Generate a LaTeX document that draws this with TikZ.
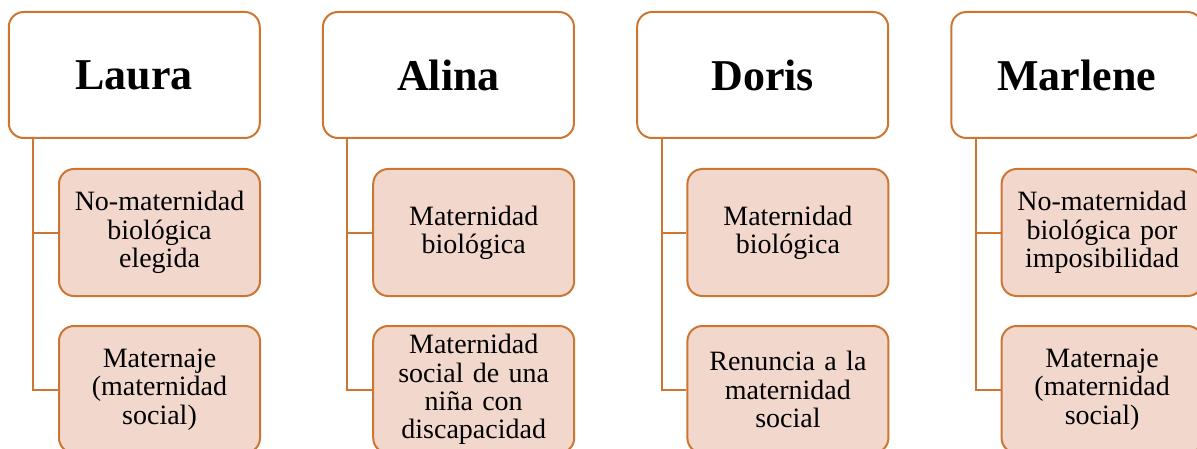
\documentclass[tikz,border=0pt]{standalone}
\usepackage{fontspec}
\setmainfont{Liberation Serif}
\usetikzlibrary{positioning}

\definecolor{boxline}{RGB}{204,118,50}
\definecolor{boxfill}{RGB}{242,215,205}

\begin{document}
\begin{tikzpicture}[x=1pt, y=1pt,
    namebox/.style={draw=boxline, line width=2pt, fill=white, rounded corners=15pt,
        minimum width=251pt, minimum height=126pt, inner sep=0pt,
        font=\bfseries\fontsize{44}{48}\selectfont},
    itembox/.style={draw=boxline, line width=2pt, fill=boxfill, rounded corners=15pt,
        minimum width=201pt, minimum height=127pt, inner sep=0pt, text width=196pt,
        align=center, font=\fontsize{28}{28.3}\selectfont},
    link/.style={draw=boxline, line width=2pt}]
    \useasboundingbox (0,0) rectangle (1197,448);

    % Laura
    \node[namebox] (laura) at (134.25,373) {Laura};
    \node[itembox] (laura1) at (159.5,215.5) {No-maternidad\\biológica\\elegida};
    \node[itembox] (laura2) at (159.5,58.5) {Maternaje\\(maternidad\\social)};

    % Alina
    \node[namebox] (alina) at (448.45,373) {Alina};
    \node[itembox] (alina1) at (473.7,215.5) {Maternidad\\biológica};
    \node[itembox] (alina2) at (473.7,58.5) {Maternidad\\social de una\\niña con\\discapacidad};

    % Doris
    \node[namebox] (doris) at (762.65,373) {Doris};
    \node[itembox] (doris1) at (787.9,215.5) {Maternidad\\biológica};
    \node[itembox] (doris2) at (787.9,58.5) {Renuncia a la\\maternidad\\social};

    % Marlene
    \node[namebox] (marlene) at (1076.85,373) {Marlene};
    \node[itembox] (marlene1) at (1102.1,215.5) {No-maternidad\\biológica por\\imposibilidad};
    \node[itembox] (marlene2) at (1102.1,58.5) {Maternaje\\(maternidad\\social)};

    % Connectors
    \foreach \p in {laura, alina, doris, marlene} {
        \coordinate (\p top) at ([xshift=25.5pt]\p.south west);
        \draw[link] (\p top) |- (\p1.west);
        \draw[link] (\p top) |- (\p2.west);
    }
\end{tikzpicture}
\end{document}
